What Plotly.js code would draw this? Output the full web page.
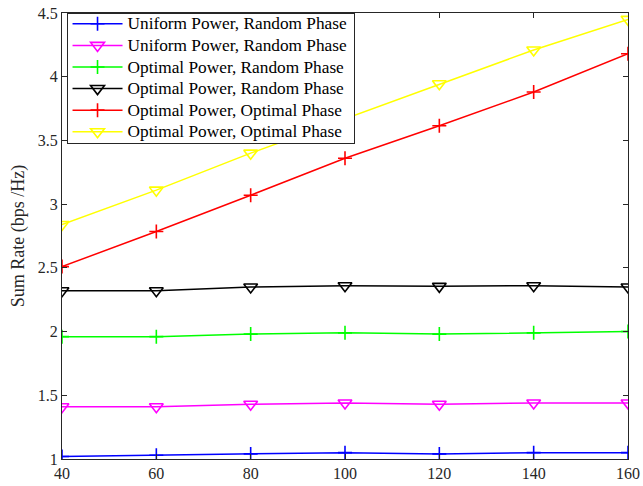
<!DOCTYPE html>
<html>
<head>
<meta charset="utf-8">
<script src="https://cdn.plot.ly/plotly-3.0.1.min.js"></script>
<style>html,body{margin:0;padding:0;background:#fff}#chart{width:643px;height:486px}</style>
</head>
<body>
<div id="chart"></div>
<script>
// Number of elements on the x axis
const xVals = [40, 60, 80, 100, 120, 140, 160];

// Sum rate (bps/Hz) per scheme
const uniformRandomA = [1.02, 1.03, 1.04, 1.05, 1.04, 1.05, 1.05];
const uniformRandomB = [1.41, 1.41, 1.43, 1.44, 1.43, 1.44, 1.44];
const optimalRandomA = [1.96, 1.96, 1.98, 1.99, 1.98, 1.99, 2.00];
const optimalRandomB = [2.32, 2.32, 2.35, 2.36, 2.355, 2.36, 2.35];
const optimalOptimalA = [2.51, 2.785, 3.07, 3.36, 3.615, 3.88, 4.18];
const optimalOptimalB = [2.84, 3.11, 3.40, 3.67, 3.945, 4.21, 4.45];

const seriesNames = [
  'Uniform Power, Random Phase',
  'Uniform Power, Random Phase',
  'Optimal Power, Random Phase',
  'Optimal Power, Random Phase',
  'Optimal Power, Optimal Phase',
  'Optimal Power, Optimal Phase'
];

const xTicks = [40, 60, 80, 100, 120, 140, 160];
const yTicks = [1, 1.5, 2, 2.5, 3, 3.5, 4, 4.5];
const yTickText = ['1', '1.5', '2', '2.5', '3', '3.5', '4', '4.5'];

const seriesData = [uniformRandomA, uniformRandomB, optimalRandomA, optimalRandomB, optimalOptimalA, optimalOptimalB];
const colors = ['#0000ff', '#ff00ff', '#00ff00', '#000000', '#ff0000', '#ffff00'];
const symbols = ['cross-thin-open', 'triangle-down-open', 'cross-thin-open', 'triangle-down-open', 'cross-thin-open', 'triangle-down-open'];
const sizes = [10, 12, 10, 12, 10, 12];

const traces = seriesData.map((ys, i) => ({
  x: xVals,
  y: ys,
  name: seriesNames[i],
  type: 'scatter',
  mode: 'lines+markers',
  line: {color: colors[i], width: 1.5},
  marker: {symbol: symbols[i], size: sizes[i], color: colors[i], line: {color: colors[i], width: 1.6}}
}));

const font = {family: '"Liberation Serif", "Times New Roman", serif', color: '#262626'};

const layout = {
  width: 643,
  height: 486,
  margin: {l: 62, r: 15, t: 13, b: 27},
  paper_bgcolor: '#ffffff',
  plot_bgcolor: '#ffffff',
  font: Object.assign({size: 16}, font),
  showlegend: true,
  xaxis: {
    range: [40, 160],
    tickvals: xTicks,
    ticks: 'inside',
    ticklen: 5,
    tickcolor: '#262626',
    showgrid: false,
    zeroline: false,
    showline: true,
    linecolor: '#262626',
    linewidth: 1,
    mirror: 'ticks',
    tickfont: Object.assign({size: 16}, font)
  },
  yaxis: {
    range: [1, 4.5],
    tickvals: yTicks,
    ticktext: yTickText,
    ticks: 'inside',
    ticklen: 5,
    tickcolor: '#262626',
    showgrid: false,
    zeroline: false,
    showline: true,
    linecolor: '#262626',
    linewidth: 1,
    mirror: 'ticks',
    tickfont: Object.assign({size: 16}, font),
    title: {text: 'Sum Rate (bps /Hz)', font: Object.assign({size: 18}, font), standoff: 8}
  },
  legend: {
    x: 0.008,
    y: 1,
    xanchor: 'left',
    yanchor: 'top',
    bgcolor: '#ffffff',
    bordercolor: '#262626',
    borderwidth: 1,
    tracegroupgap: 0,
    itemwidth: 50,
    // compact row spacing; the text itself is enlarged after drawing
    font: {family: '"Liberation Serif", "Times New Roman", serif', size: 14.3, color: '#000000'}
  }
};

const LEGEND_TEXT_PX = 17.3;
const LEGEND_SHIFT_UP = 6;
const LEGEND_TRIM = 11;

Plotly.newPlot('chart', traces, layout, {displayModeBar: false, staticPlot: true}).then(gd => {
  // Larger legend labels while keeping the tight row pitch
  const texts = gd.querySelectorAll('.legend .legendtext');
  let maxRight = 0;
  texts.forEach(t => {
    t.style.fontSize = LEGEND_TEXT_PX + 'px';
    const bb = t.getBBox();
    maxRight = Math.max(maxRight, bb.x + bb.width);
  });
  // let the wider labels show past the original legend clip
  gd.querySelectorAll('.legend .scrollbox, .legend [clip-path]').forEach(el => el.removeAttribute('clip-path'));
  const scroll = gd.querySelector('.legend .scrollbox');
  if (scroll) scroll.setAttribute('transform', 'translate(0,' + (-LEGEND_SHIFT_UP) + ')');
  const bg = gd.querySelector('.legend .bg');
  if (bg && maxRight > 0) {
    const firstTrace = gd.querySelector('.legend .traces');
    let offX = 0;
    if (firstTrace) {
      const tr = firstTrace.getAttribute('transform') || '';
      const m = tr.match(/translate\(\s*([-\d.]+)/);
      if (m) offX = parseFloat(m[1]);
    }
    bg.setAttribute('width', Math.ceil(offX + maxRight + 6));
    const h = parseFloat(bg.getAttribute('height'));
    if (!isNaN(h)) bg.setAttribute('height', h - LEGEND_TRIM);
  }
});
</script>
</body>
</html>
